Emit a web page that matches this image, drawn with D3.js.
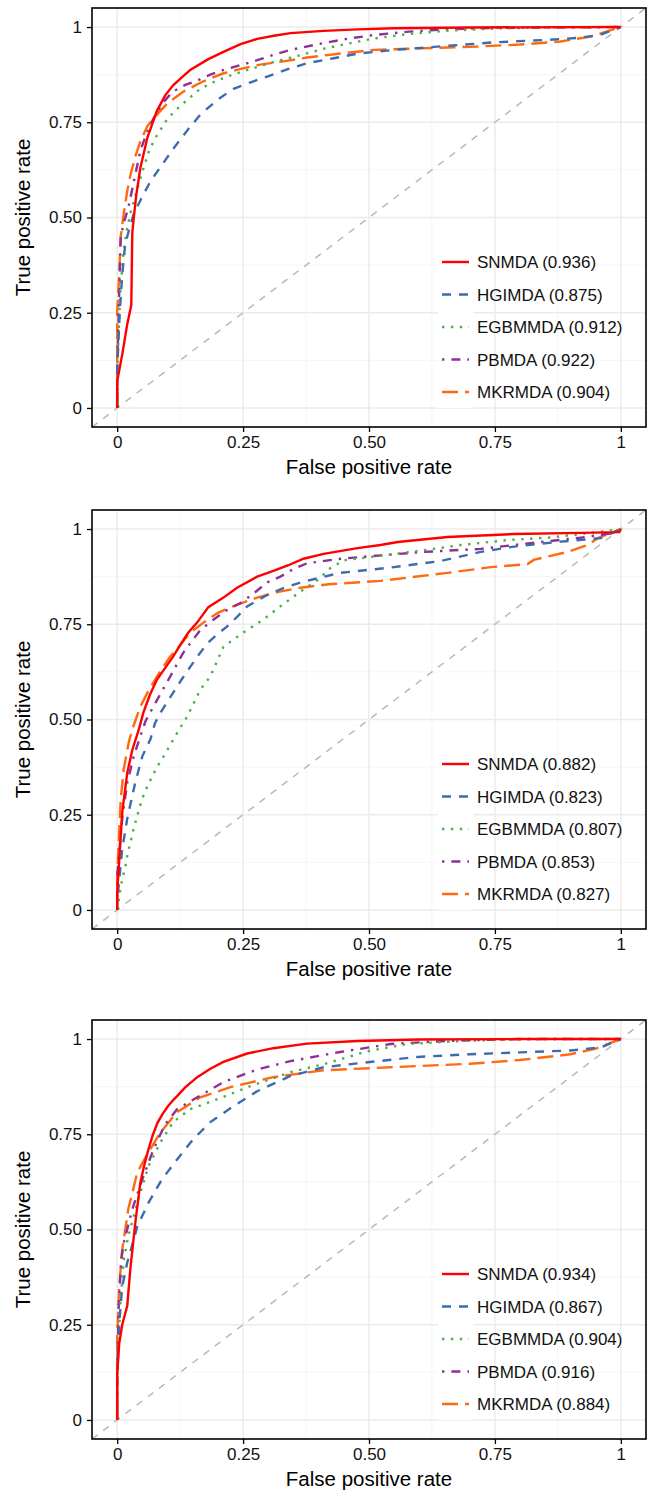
<!DOCTYPE html>
<html>
<head>
<meta charset="utf-8">
<script src="https://cdnjs.cloudflare.com/ajax/libs/d3/7.8.5/d3.min.js"></script>
<style>
  body { margin: 0; background: #fff; }
  svg { display: block; font-family: "Liberation Sans", Arial, sans-serif; }
</style>
</head>
<body>
<svg id="chart" width="649" height="1492"></svg>
<script>
// methods + AUC values for each of the three panels
var methods = ["SNMDA", "HGIMDA", "EGBMMDA", "PBMDA", "MKRMDA"];
var auc1 = [0.936, 0.875, 0.912, 0.922, 0.904];
var auc2 = [0.882, 0.823, 0.807, 0.853, 0.827];
var auc3 = [0.934, 0.867, 0.904, 0.916, 0.884];

var tickValues = [0, 0.25, 0.5, 0.75, 1];
var tickLabels = ["0", "0.25", "0.50", "0.75", "1"];
var minorTicks = [0.125, 0.375, 0.625, 0.875];

// ROC points [fpr, tpr]
// panel 1
var snmda1 = [[0,0],[0,0.07],[0.01,0.14],[0.02,0.22],[0.028,0.27],[0.03,0.46],[0.033,0.5],[0.038,0.56],[0.046,0.63],[0.06,0.71],[0.079,0.78],[0.095,0.82],[0.111,0.847],[0.13,0.87],[0.145,0.887],[0.18,0.915],[0.211,0.935],[0.245,0.955],[0.278,0.969],[0.311,0.977],[0.344,0.984],[0.41,0.99],[0.477,0.994],[0.55,0.997],[0.7,0.999],[1,1]];
var hgimda1 = [[0,0],[0,0.1],[0.005,0.25],[0.01,0.35],[0.016,0.43],[0.024,0.47],[0.033,0.51],[0.048,0.55],[0.066,0.595],[0.09,0.64],[0.111,0.68],[0.14,0.73],[0.165,0.77],[0.2,0.81],[0.231,0.838],[0.265,0.855],[0.298,0.87],[0.34,0.89],[0.377,0.905],[0.43,0.918],[0.477,0.93],[0.55,0.94],[0.65,0.95],[0.75,0.96],[0.85,0.966],[0.92,0.972],[0.96,0.98],[1,1]];
var egbmmda1 = [[0,0],[0,0.1],[0.006,0.3],[0.012,0.4],[0.018,0.46],[0.026,0.51],[0.04,0.575],[0.05,0.62],[0.062,0.67],[0.074,0.705],[0.086,0.73],[0.1,0.76],[0.119,0.785],[0.14,0.81],[0.165,0.838],[0.195,0.858],[0.225,0.873],[0.265,0.89],[0.31,0.908],[0.36,0.925],[0.41,0.943],[0.46,0.957],[0.51,0.97],[0.58,0.982],[0.65,0.99],[0.75,0.996],[0.85,0.999],[1,1]];
var pbmda1 = [[0,0],[0,0.1],[0.003,0.25],[0.007,0.45],[0.014,0.49],[0.022,0.525],[0.034,0.6],[0.046,0.675],[0.058,0.72],[0.072,0.76],[0.09,0.8],[0.11,0.83],[0.135,0.848],[0.16,0.86],[0.185,0.875],[0.21,0.887],[0.245,0.9],[0.278,0.913],[0.31,0.927],[0.344,0.94],[0.41,0.958],[0.46,0.97],[0.51,0.979],[0.58,0.988],[0.65,0.994],[0.75,0.998],[1,1]];
var mkrmda1 = [[0,0],[0,0.25],[0.004,0.35],[0.007,0.45],[0.013,0.51],[0.02,0.57],[0.026,0.61],[0.036,0.66],[0.046,0.7],[0.06,0.74],[0.079,0.77],[0.1,0.8],[0.131,0.83],[0.17,0.857],[0.21,0.878],[0.245,0.89],[0.278,0.9],[0.33,0.91],[0.377,0.92],[0.44,0.93],[0.51,0.94],[0.6,0.944],[0.7,0.948],[0.8,0.954],[0.88,0.962],[0.94,0.975],[1,1]];

// panel 2
var snmda2 = [[0,0],[0,0.047],[0.003,0.107],[0.01,0.256],[0.02,0.36],[0.03,0.42],[0.043,0.474],[0.052,0.518],[0.065,0.565],[0.079,0.605],[0.095,0.635],[0.111,0.665],[0.125,0.695],[0.141,0.728],[0.159,0.755],[0.181,0.795],[0.211,0.82],[0.238,0.846],[0.278,0.875],[0.31,0.89],[0.34,0.905],[0.37,0.922],[0.41,0.935],[0.477,0.95],[0.523,0.958],[0.557,0.966],[0.656,0.979],[0.788,0.987],[0.92,0.99],[0.997,0.992],[1,1]];
var hgimda2 = [[0,0],[0,0.024],[0.01,0.16],[0.02,0.24],[0.036,0.335],[0.05,0.404],[0.066,0.448],[0.075,0.49],[0.086,0.518],[0.111,0.57],[0.128,0.605],[0.145,0.638],[0.162,0.67],[0.179,0.7],[0.2,0.725],[0.219,0.745],[0.24,0.772],[0.258,0.797],[0.298,0.827],[0.33,0.845],[0.37,0.862],[0.443,0.885],[0.543,0.899],[0.642,0.916],[0.722,0.94],[0.788,0.954],[0.881,0.967],[0.96,0.976],[1,1]];
var egbmmda2 = [[0,0],[0.004,0.033],[0.007,0.062],[0.012,0.091],[0.017,0.12],[0.021,0.15],[0.027,0.181],[0.032,0.21],[0.038,0.238],[0.044,0.267],[0.051,0.296],[0.059,0.322],[0.07,0.352],[0.081,0.379],[0.093,0.405],[0.104,0.43],[0.116,0.458],[0.139,0.508],[0.165,0.578],[0.185,0.613],[0.211,0.691],[0.25,0.728],[0.29,0.762],[0.324,0.797],[0.364,0.836],[0.398,0.866],[0.423,0.897],[0.45,0.918],[0.523,0.93],[0.613,0.945],[0.682,0.958],[0.775,0.971],[0.861,0.978],[0.954,0.992],[1,1]];
var pbmda2 = [[0,0],[0,0.09],[0.01,0.24],[0.02,0.335],[0.033,0.404],[0.046,0.456],[0.056,0.495],[0.072,0.534],[0.087,0.57],[0.102,0.605],[0.131,0.675],[0.165,0.735],[0.191,0.762],[0.215,0.785],[0.245,0.806],[0.27,0.83],[0.298,0.86],[0.324,0.875],[0.35,0.895],[0.377,0.91],[0.443,0.922],[0.523,0.931],[0.61,0.94],[0.722,0.948],[0.821,0.963],[0.92,0.977],[0.986,0.99],[1,1]];
var mkrmda2 = [[0,0],[0,0.09],[0.007,0.29],[0.013,0.37],[0.023,0.44],[0.03,0.474],[0.046,0.534],[0.06,0.57],[0.079,0.613],[0.105,0.665],[0.125,0.695],[0.145,0.728],[0.179,0.762],[0.2,0.78],[0.225,0.795],[0.278,0.82],[0.32,0.835],[0.364,0.846],[0.42,0.855],[0.523,0.864],[0.656,0.885],[0.742,0.9],[0.815,0.908],[0.827,0.919],[0.894,0.94],[0.934,0.958],[0.954,0.976],[1,1]];

// panel 3
var snmda3 = [[0,0],[0,0.12],[0.004,0.2],[0.01,0.25],[0.02,0.3],[0.026,0.395],[0.036,0.518],[0.046,0.623],[0.054,0.67],[0.062,0.71],[0.07,0.745],[0.08,0.78],[0.09,0.803],[0.1,0.822],[0.11,0.838],[0.119,0.85],[0.135,0.873],[0.159,0.9],[0.185,0.922],[0.211,0.94],[0.258,0.962],[0.31,0.976],[0.377,0.988],[0.477,0.995],[0.6,0.999],[0.8,1],[1,1]];
var hgimda3 = [[0,0],[0,0.12],[0.005,0.27],[0.01,0.35],[0.02,0.413],[0.03,0.46],[0.04,0.508],[0.062,0.57],[0.089,0.632],[0.119,0.684],[0.151,0.737],[0.185,0.782],[0.231,0.824],[0.278,0.863],[0.344,0.903],[0.41,0.926],[0.497,0.939],[0.596,0.953],[0.7,0.96],[0.8,0.965],[0.9,0.97],[0.96,0.978],[1,1]];
var egbmmda3 = [[0,0],[0,0.12],[0.006,0.3],[0.013,0.42],[0.022,0.482],[0.04,0.57],[0.062,0.666],[0.086,0.729],[0.111,0.782],[0.145,0.816],[0.199,0.842],[0.264,0.876],[0.344,0.913],[0.41,0.934],[0.497,0.968],[0.576,0.987],[0.7,0.996],[0.85,1],[1,1]];
var pbmda3 = [[0,0],[0,0.12],[0.003,0.3],[0.008,0.42],[0.013,0.465],[0.03,0.553],[0.05,0.632],[0.072,0.71],[0.095,0.776],[0.119,0.816],[0.159,0.847],[0.211,0.887],[0.278,0.92],[0.344,0.942],[0.443,0.966],[0.543,0.987],[0.65,0.995],[0.8,1],[1,1]];
var mkrmda3 = [[0,0],[0,0.22],[0.004,0.35],[0.01,0.447],[0.022,0.553],[0.04,0.65],[0.062,0.703],[0.086,0.755],[0.119,0.808],[0.165,0.847],[0.225,0.874],[0.31,0.9],[0.41,0.918],[0.543,0.926],[0.596,0.929],[0.7,0.935],[0.8,0.945],[0.9,0.96],[0.95,0.975],[1,1]];

var colors = ["#FF0000", "#3D6CAE", "#4DAF4A", "#8E3096", "#FF6A10"];
var dashes = [null, "9,8", "2.4,6.5", "2.4,7,9,7", "16,7"];

var panels = [
	{ top: 8, auc: auc1, series: [snmda1, hgimda1, egbmmda1, pbmda1, mkrmda1] },
	{ top: 510, auc: auc2, series: [snmda2, hgimda2, egbmmda2, pbmda2, mkrmda2] },
	{ top: 1020, auc: auc3, series: [snmda3, hgimda3, egbmmda3, pbmda3, mkrmda3] }
];

var svg = d3.select("#chart");
var left = 92, right = 646, ph = 419;

panels.forEach(function(p, pi) {
	var x = d3.scaleLinear().domain([-0.05, 1.05]).range([left, right]);
	var y = d3.scaleLinear().domain([-0.05, 1.05]).range([p.top + ph, p.top]);
	var g = svg.append("g");

	var clipId = "clip" + pi;
	g.append("clipPath").attr("id", clipId)
		.append("rect").attr("x", left).attr("y", p.top).attr("width", right - left).attr("height", ph);

	// grid
	var grid = g.append("g");
	minorTicks.forEach(function(t) {
		grid.append("line").attr("x1", x(t)).attr("x2", x(t)).attr("y1", p.top).attr("y2", p.top + ph)
			.attr("stroke", "#F2F2F2").attr("stroke-width", 0.8);
		grid.append("line").attr("y1", y(t)).attr("y2", y(t)).attr("x1", left).attr("x2", right)
			.attr("stroke", "#F2F2F2").attr("stroke-width", 0.8);
	});
	tickValues.forEach(function(t) {
		grid.append("line").attr("x1", x(t)).attr("x2", x(t)).attr("y1", p.top).attr("y2", p.top + ph)
			.attr("stroke", "#EBEBEB").attr("stroke-width", 1.5);
		grid.append("line").attr("y1", y(t)).attr("y2", y(t)).attr("x1", left).attr("x2", right)
			.attr("stroke", "#EBEBEB").attr("stroke-width", 1.5);
	});

	var plot = g.append("g").attr("clip-path", "url(#" + clipId + ")");

	// chance diagonal
	plot.append("line")
		.attr("x1", x(-0.05)).attr("y1", y(-0.05)).attr("x2", x(1.05)).attr("y2", y(1.05))
		.attr("stroke", "#BDB8B0").attr("stroke-width", 1.5).attr("stroke-dasharray", "7,7");

	var line = d3.line().x(function(d) { return x(d[0]); }).y(function(d) { return y(d[1]); });

	// draw last series first so SNMDA ends on top
	for (var i = p.series.length - 1; i >= 0; i--) {
		plot.append("path").datum(p.series[i])
			.attr("d", line)
			.attr("fill", "none")
			.attr("stroke", colors[i])
			.attr("stroke-width", 2.4)
			.attr("stroke-dasharray", dashes[i]);
	}

	// legend
	var leg = g.append("g");
	var ly0 = p.top + 254, lstep = 32.5;
	leg.append("rect").attr("x", 438).attr("y", ly0 - 16).attr("width", 35).attr("height", lstep * 4 + 32)
		.attr("fill", "#fff");
	methods.forEach(function(m, i) {
		var ly = ly0 + i * lstep;
		leg.append("line").attr("x1", 442).attr("x2", 469).attr("y1", ly).attr("y2", ly)
			.attr("stroke", colors[i]).attr("stroke-width", 2.4).attr("stroke-dasharray", dashes[i]);
		leg.append("text").attr("x", 477).attr("y", ly + 6)
			.attr("font-size", 17).attr("fill", "#111")
			.text(m + " (" + p.auc[i].toFixed(3) + ")");
	});

	// border
	g.append("rect").attr("x", left).attr("y", p.top).attr("width", right - left).attr("height", ph)
		.attr("fill", "none").attr("stroke", "#000").attr("stroke-width", 1.6);

	// axes
	var xAxis = d3.axisBottom(x).tickValues(tickValues).tickSize(5).tickPadding(4)
		.tickFormat(function(d, i) { return tickLabels[i]; });
	var yAxis = d3.axisLeft(y).tickValues(tickValues).tickSize(5).tickPadding(5)
		.tickFormat(function(d, i) { return tickLabels[i]; });

	var gx = g.append("g").attr("transform", "translate(0," + (p.top + ph) + ")").call(xAxis);
	var gy = g.append("g").attr("transform", "translate(" + left + ",0)").call(yAxis);
	[gx, gy].forEach(function(a) {
		a.select(".domain").remove();
		a.selectAll(".tick line").attr("stroke", "#000").attr("stroke-width", 1.3);
		a.selectAll(".tick text").attr("font-size", 17).attr("fill", "#111")
			.attr("font-family", "Liberation Sans, Arial, sans-serif");
	});

	g.append("text").attr("x", (left + right) / 2).attr("y", p.top + ph + 47)
		.attr("text-anchor", "middle").attr("font-size", 20.5).attr("fill", "#000")
		.text("False positive rate");
	g.append("text")
		.attr("transform", "translate(30," + (p.top + ph / 2) + ") rotate(-90)")
		.attr("text-anchor", "middle").attr("font-size", 20.5).attr("fill", "#000")
		.text("True positive rate");
});
</script>
</body>
</html>
